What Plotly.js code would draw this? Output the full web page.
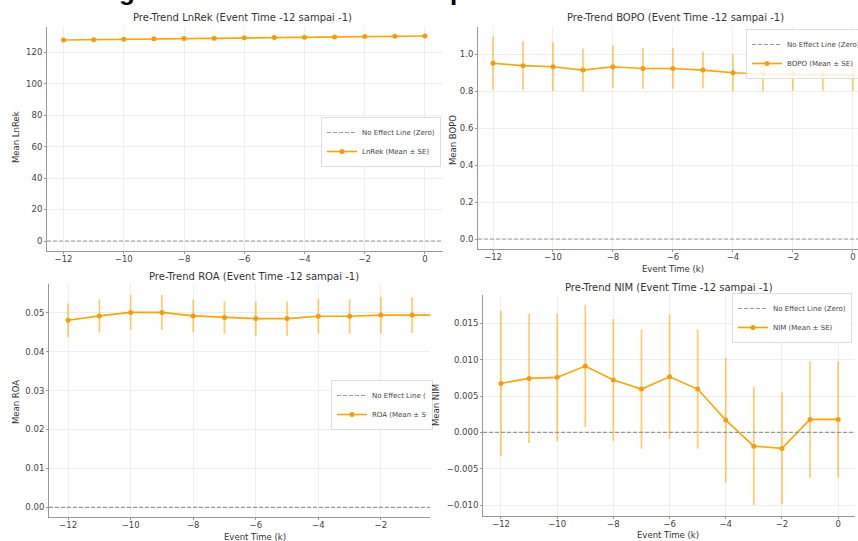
<!DOCTYPE html>
<html>
<head>
<meta charset="utf-8">
<script src="https://cdn.plot.ly/plotly-3.0.1.min.js"></script>
<style>html,body{margin:0;padding:0;background:#fff;}#chart{width:858px;height:541px;}</style>
</head>
<body>
<div id="chart"></div>
<script>
// ---- data ----
const eventTime = [-12, -11, -10, -9, -8, -7, -6, -5, -4, -3, -2, -1, 0];
const xTicks = [-12, -10, -8, -6, -4, -2, 0];

const lnrekMean = [127.6, 127.8, 128.1, 128.4, 128.6, 128.8, 129.0, 129.2, 129.4, 129.6, 129.8, 130.0, 130.2];
const lnrekSE   = [0.6, 0.6, 0.6, 0.6, 0.6, 0.6, 0.6, 0.6, 0.6, 0.6, 0.6, 0.6, 0.6];

const bopoMean = [0.950, 0.937, 0.931, 0.913, 0.931, 0.922, 0.922, 0.913, 0.899, 0.892, 0.890, 0.886, 0.886];
const bopoSE   = [0.145, 0.132, 0.131, 0.115, 0.115, 0.110, 0.110, 0.100, 0.100, 0.093, 0.088, 0.084, 0.084];

const roaMean = [0.0481, 0.0492, 0.0501, 0.0501, 0.0492, 0.0488, 0.0485, 0.0485, 0.0491, 0.0491, 0.0494, 0.0494, 0.0494];
const roaSE   = [0.0043, 0.0043, 0.0045, 0.0045, 0.0042, 0.0042, 0.0044, 0.0044, 0.0044, 0.0044, 0.0047, 0.0046, 0.0046];

const nimMean = [0.00674, 0.00743, 0.00757, 0.00912, 0.00720, 0.00596, 0.00765, 0.00596, 0.00169, -0.00189, -0.00220, 0.00179, 0.00179];
const nimSE   = [0.0100, 0.0089, 0.0088, 0.0084, 0.0084, 0.0082, 0.0086, 0.0082, 0.0086, 0.0081, 0.0077, 0.0080, 0.0080];

const panelTitles = [
  "Pre-Trend LnRek (Event Time -12 sampai -1)",
  "Pre-Trend BOPO (Event Time -12 sampai -1)",
  "Pre-Trend ROA (Event Time -12 sampai -1)",
  "Pre-Trend NIM (Event Time -12 sampai -1)"
];
const yLabels = ["Mean LnRek", "Mean BOPO", "Mean ROA", "Mean NIM"];
const seriesNames = ["LnRek (Mean ± SE)", "BOPO (Mean ± SE)", "ROA (Mean ± S", "NIM (Mean ± SE)"];
const zeroNames = ["No Effect Line (Zero)", "No Effect Line (Zero)", "No Effect Line (", "No Effect Line (Zero)"];
const xLabel = "Event Time (k)";
const figTitle = "Figure 4. Hasil Pre-Trend Empat Indikator Bank Umum";

// ---- layout helpers (pixel -> paper) ----
const W = 858, H = 541;
const px = x => x / W;
const py = y => 1 - y / H;

const FONT = "DejaVu Sans, sans-serif";
const ORANGE = "#FFA500";
const ERR = "rgba(255,165,0,0.55)";

const panels = [
  {mean: lnrekMean, se: lnrekSE, xd: [47, 443], yd: [27, 251], xr: [-12.55, 0.6], yr: [-6.35, 135.9], dtick: 20, fmt: "d"},
  {mean: bopoMean, se: bopoSE, xd: [478, 858], yd: [27, 249], xr: [-12.5, 0.17], yr: [-0.054, 1.146], dtick: 0.2, fmt: ".1f"},
  {mean: roaMean, se: roaSE, xd: [49, 430], yd: [284, 517], xr: [-12.61, -0.43], yr: [-0.0025, 0.0574], dtick: 0.01, fmt: ".2f"},
  {mean: nimMean, se: nimSE, xd: [483, 855], yd: [295, 516], xr: [-12.64, 0.6], yr: [-0.0115, 0.0189], dtick: 0.005, fmt: ".3f"}
];

const legendPos = [[321, 117], [746, 29], [331, 380], [732, 293]];

const traces = [];
const layout = {
  width: W, height: H,
  margin: {l: 0, r: 0, t: 0, b: 0, autoexpand: false},
  paper_bgcolor: "#fff", plot_bgcolor: "#fff",
  font: {family: FONT, color: "#333"},
  showlegend: true,
  annotations: [], shapes: []
};

const titlePos = [[242, 18], [675, 18], [254, 276], [669, 287]];
const yLabelPos = [[16, 137], [453, 140], [16, 402], [436, 405]];
const xLabelPos = [null, [673, 269], [255, 537], [668, 535]];

panels.forEach((p, i) => {
  const n = i + 1;
  const xa = n === 1 ? "x" : "x" + n;
  const ya = n === 1 ? "y" : "y" + n;
  const lg = n === 1 ? "legend" : "legend" + n;

  traces.push({
    type: "scatter", mode: "lines+markers",
    x: eventTime, y: p.mean,
    xaxis: xa, yaxis: ya,
    name: seriesNames[i], legend: lg, legendrank: 2,
    line: {color: ORANGE, width: 1.6},
    marker: {color: "#F39C12", size: 5},
    error_y: {type: "data", array: p.se, visible: true, color: ERR, thickness: 1.8, width: 0}
  });

  const axBase = {
    showline: true, linecolor: "#999", linewidth: 1, mirror: false,
    ticks: "outside", ticklen: 2, tickcolor: "#999",
    showgrid: true, gridcolor: "#EEEEEE", gridwidth: 1,
    zeroline: false,
    tickfont: {family: FONT, size: 8.5, color: "#444"}
  };
  layout["xaxis" + (n === 1 ? "" : n)] = Object.assign({}, axBase, {
    domain: [px(p.xd[0]), px(p.xd[1])], range: p.xr, anchor: ya,
    tickmode: "array", tickvals: xTicks, ticklabelstandoff: -2
  });
  layout["yaxis" + (n === 1 ? "" : n)] = Object.assign({}, axBase, {
    domain: [py(p.yd[1]), py(p.yd[0])], range: p.yr, anchor: xa,
    dtick: p.dtick, tick0: 0, tickformat: p.fmt
  });

  layout.shapes.push({
    type: "line", xref: xa + " domain", yref: ya,
    x0: 0, x1: 1, y0: 0, y1: 0,
    line: {color: "#999", width: 1.2, dash: "4px,2px"},
    showlegend: true, name: zeroNames[i], legend: lg, legendrank: 1
  });

  layout[lg] = {
    x: px(legendPos[i][0]), y: py(legendPos[i][1]),
    xanchor: "left", yanchor: "top",
    bgcolor: "rgba(255,255,255,0.85)", bordercolor: "#DDDDDD", borderwidth: 1,
    font: {family: FONT, size: 7, color: "#444"},
    itemwidth: 30, tracegroupgap: 0
  };

  layout.annotations.push({
    text: panelTitles[i], xref: "paper", yref: "paper",
    x: px(titlePos[i][0]), y: py(titlePos[i][1]),
    xanchor: "center", yanchor: "middle", showarrow: false,
    font: {family: FONT, size: 10, color: "#333"}
  });
  layout.annotations.push({
    text: yLabels[i], xref: "paper", yref: "paper",
    x: px(yLabelPos[i][0]), y: py(yLabelPos[i][1]),
    xanchor: "center", yanchor: "middle", showarrow: false, textangle: -90,
    font: {family: FONT, size: 8.5, color: "#333"}
  });
  if (xLabelPos[i]) {
    layout.annotations.push({
      text: xLabel, xref: "paper", yref: "paper",
      x: px(xLabelPos[i][0]), y: py(xLabelPos[i][1]),
      xanchor: "center", yanchor: "middle", showarrow: false,
      font: {family: FONT, size: 8.5, color: "#333"}
    });
  }
});

layout.annotations.push({
  text: "<b>" + figTitle + "</b>", xref: "paper", yref: "paper",
  x: px(430), y: py(8), xanchor: "center", yanchor: "bottom", showarrow: false,
  font: {family: "Liberation Sans, Arial, sans-serif", size: 26, color: "#000"}
});

Plotly.newPlot("chart", traces, layout, {displayModeBar: false, staticPlot: true});
</script>
</body>
</html>
